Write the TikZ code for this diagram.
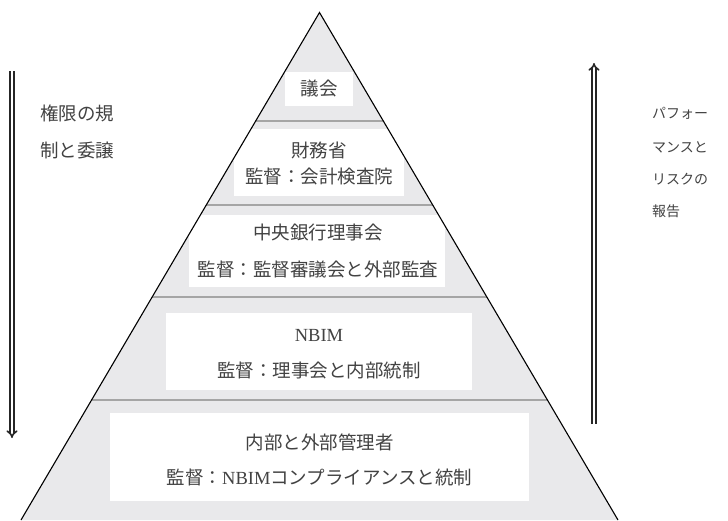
\documentclass[tikz,border=0pt]{standalone}
\usepackage{fontspec}
\setmainfont{Noto Sans CJK JP}
\newfontfamily\latf{Liberation Serif}
\usetikzlibrary{arrows.meta}
\definecolor{pyrfill}{RGB}{233,233,235}
\definecolor{divgray}{RGB}{165,165,165}
\definecolor{txt}{RGB}{66,66,66}
\begin{document}
\begin{tikzpicture}[x=1pt,y=-1pt,
  whitebox/.style={fill=white, draw=none, inner sep=0pt},
  lbl/.style={font=\fontsize{18.5}{20}\selectfont, text=txt, inner sep=0pt},
  sidel/.style={font=\fontsize{18.5}{20}\selectfont, text=txt, inner sep=0pt, anchor=west},
  sider/.style={font=\fontsize{14}{16}\selectfont, text=txt, inner sep=0pt, anchor=west},
  divider/.style={draw=divgray, line width=2pt},
  flow/.style={draw=black!85, line width=1.6pt, double, double distance=2pt, -{Implies}}]
\useasboundingbox (0,0) rectangle (728,520);
\coordinate (apex) at (319.5,12.5);
\coordinate (bl) at (21,520);
\coordinate (br) at (618,520);
% pyramid fill
\fill[pyrfill] (apex) -- (bl) -- (br) -- cycle;
\begin{scope}
  \clip (apex) -- (bl) -- (br) -- cycle;
  \foreach \yy in {121,205,297,400} {
    \draw[divider] (0,\yy) -- (728,\yy);
  }
\end{scope}
% boxes
\node[whitebox, minimum width=68pt, minimum height=34pt] (b1) at (319,89) {};
\node[whitebox, minimum width=170pt, minimum height=67pt] (b2) at (319,162.5) {};
\node[whitebox, minimum width=256pt, minimum height=72pt] (b3) at (317,251) {};
\node[whitebox, minimum width=306pt, minimum height=77pt] (b4) at (319,351.5) {};
\node[whitebox, minimum width=419pt, minimum height=88pt] (b5) at (319.5,457) {};
% texts
\node[lbl] (t1) at (319,89) {議会};
\node[lbl] (t2a) at (319,150) {財務省};
\node[lbl] (t2b) at (319,177) {監督：会計検査院};
\node[lbl] (t3a) at (318,232) {中央銀行理事会};
\node[lbl] (t3b) at (318,270) {監督：監督審議会と外部監査};
\node[lbl] (t4a) at (319,335) {\latf NBIM};
\node[lbl] (t4b) at (319,370) {監督：理事会と内部統制};
\node[lbl] (t5a) at (319.5,442) {内部と外部管理者};
\node[lbl] (t5b) at (319.5,477) {監督：{\latf NBIM}コンプライアンスと統制};
% outline
\draw[black, line width=1.1pt, line join=miter] (bl) -- (apex) -- (br);
% side labels
\node[sidel] (l1) at (40,113) {権限の規};
\node[sidel] (l2) at (40,150) {制と委譲};
\node[sider] (r1) at (652,113) {パフォー};
\node[sider] (r2) at (652,147) {マンスと};
\node[sider] (r3) at (652,179) {リスクの};
\node[sider] (r4) at (652,211) {報告};
% arrows
\coordinate (la1) at (12,71);
\coordinate (la2) at (12,438);
\coordinate (ra1) at (594,424);
\coordinate (ra2) at (594,63);
\draw[flow] (la1) -- (la2);
\draw[flow] (ra1) -- (ra2);
\end{tikzpicture}
\end{document}
